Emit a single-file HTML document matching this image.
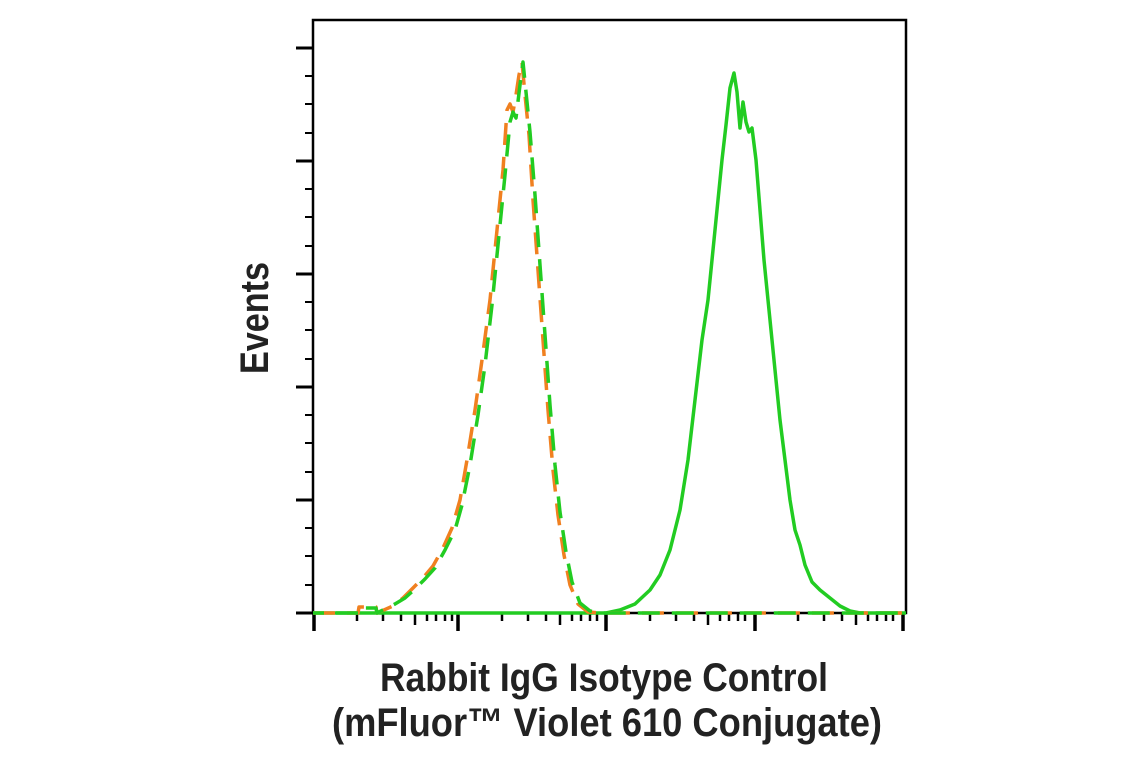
<!DOCTYPE html>
<html><head><style>html,body{margin:0;padding:0;background:#fff}svg{display:block}</style></head>
<body>
<svg width="1141" height="768" viewBox="0 0 1141 768" xmlns="http://www.w3.org/2000/svg">
<g stroke="#000" fill="none">
<rect x="313" y="20" width="593" height="593" stroke-width="2.5"/>
<g stroke-width="3">
<line x1="296" y1="48" x2="313" y2="48"/><line x1="296" y1="161" x2="313" y2="161"/>
<line x1="296" y1="274" x2="313" y2="274"/><line x1="296" y1="387" x2="313" y2="387"/>
<line x1="296" y1="500" x2="313" y2="500"/><line x1="296" y1="613" x2="313" y2="613"/>
</g>
<g stroke-width="2">
<line x1="305" y1="76" x2="313" y2="76"/><line x1="305" y1="104" x2="313" y2="104"/><line x1="305" y1="133" x2="313" y2="133"/>
<line x1="305" y1="189" x2="313" y2="189"/><line x1="305" y1="217" x2="313" y2="217"/><line x1="305" y1="246" x2="313" y2="246"/>
<line x1="305" y1="302" x2="313" y2="302"/><line x1="305" y1="330" x2="313" y2="330"/><line x1="305" y1="359" x2="313" y2="359"/>
<line x1="305" y1="415" x2="313" y2="415"/><line x1="305" y1="443" x2="313" y2="443"/><line x1="305" y1="472" x2="313" y2="472"/>
<line x1="305" y1="528" x2="313" y2="528"/><line x1="305" y1="556" x2="313" y2="556"/><line x1="305" y1="585" x2="313" y2="585"/>
</g>
<g stroke-width="3.5">
<line x1="314" y1="613" x2="314" y2="631"/><line x1="458" y1="613" x2="458" y2="631"/>
<line x1="606" y1="613" x2="606" y2="631"/><line x1="755" y1="613" x2="755" y2="631"/>
<line x1="903" y1="613" x2="903" y2="631"/>
</g>
<g stroke-width="2.5" id="dec">
<line x1="357" y1="613" x2="357" y2="621"/><line x1="383" y1="613" x2="383" y2="621"/>
<line x1="401" y1="613" x2="401" y2="621"/><line x1="415" y1="613" x2="415" y2="625"/>
<line x1="427" y1="613" x2="427" y2="621"/><line x1="436" y1="613" x2="436" y2="621"/>
<line x1="445" y1="613" x2="445" y2="621"/><line x1="452" y1="613" x2="452" y2="621"/>
</g>
<use href="#dec" x="145"/><use href="#dec" x="293"/><use href="#dec" x="441"/>
</g>
<g fill="none" stroke-width="3.5" stroke-linejoin="round">
<path stroke="#22cc22" d="M313,613 L606,613 L620,610 L635,604 L650,590 L660,575 L670,550 L680,510 L688,460 L695,400 L702,340 L708,300 L713,250 L718,200 L722,160 L726,125 L730,88 L734,73 L737,92 L740,128 L743,102 L746,122 L749,132 L752,128 L756,160 L760,210 L764,260 L768,300 L772,340 L776,380 L780,420 L785,460 L790,500 L795,530 L800,545 L805,565 L812,582 L820,590 L830,598 L840,606 L850,611 L860,613 L906,613"/>
<path stroke="#f08020" stroke-dasharray="22,12" d="M313,613 L358,613 L359,607 L376,607 L377,613 L393,606 L403,598 L413,588 L423,578 L433,566 L443,548 L452,528 L460,500 L467,460 L475,410 L482,360 L490,300 L497,230 L503,170 L507,110 L510,104 L513,112 L516,95 L519,75 L522,62 L525,95 L529,135 L533,200 L538,270 L543,340 L548,410 L553,470 L558,515 L564,555 L570,585 L578,604 L588,612 L600,613 L906,613"/>
<path stroke="#22cc22" stroke-dasharray="22,12" stroke-dashoffset="11" d="M313,613 L360,613 L361,608 L376,608 L377,613 L395,604 L405,598 L415,589 L425,579 L435,568 L445,550 L455,530 L462,505 L470,465 L478,415 L485,365 L492,305 L499,235 L505,175 L510,122 L513,112 L516,118 L520,85 L523,62 L526,92 L530,132 L535,195 L540,265 L545,335 L550,405 L555,465 L560,512 L566,552 L572,582 L580,603 L590,611 L600,613 L906,613"/>
</g>
<g font-family="'Liberation Sans', sans-serif" font-weight="bold" fill="#222">
<text transform="translate(268,318) rotate(-90)" text-anchor="middle" font-size="40" textLength="112" lengthAdjust="spacingAndGlyphs">Events</text>
<text x="604" y="691" text-anchor="middle" font-size="40" textLength="448" lengthAdjust="spacingAndGlyphs">Rabbit IgG Isotype Control</text>
<text x="607" y="736" text-anchor="middle" font-size="40" textLength="550" lengthAdjust="spacingAndGlyphs">(mFluor™ Violet 610 Conjugate)</text>
</g>
</svg>
</body></html>
